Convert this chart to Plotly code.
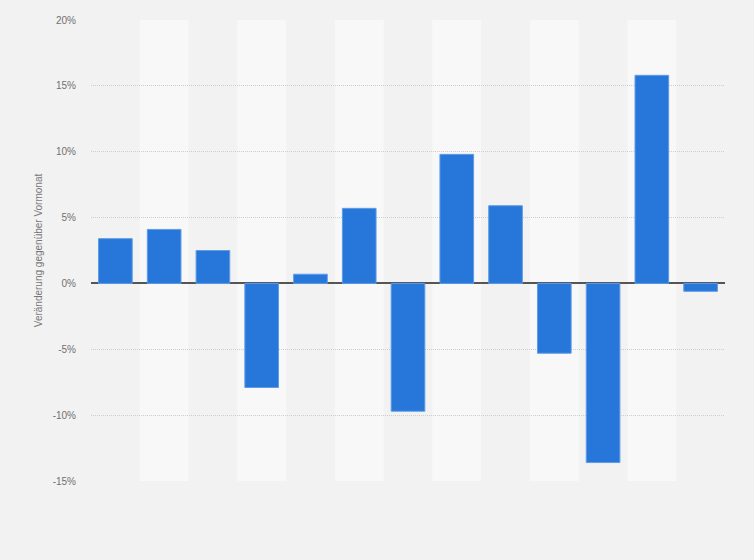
import plotly.graph_objects as go

# monthly change vs. previous month (no x labels shown in the source)
months = ["M1", "M2", "M3", "M4", "M5", "M6", "M7",
          "M8", "M9", "M10", "M11", "M12", "M13"]
change = [3.4, 4.1, 2.5, -7.9, 0.7, 5.7, -9.7, 9.8, 5.9, -5.3, -13.6, 15.8, -0.6]

y_ticks = [-15, -10, -5, 0, 5, 10, 15, 20]
y_labels = ["-15%", "-10%", "-5%", "0%", "5%", "10%", "15%", "20%"]

fig = go.Figure()
fig.add_trace(go.Bar(
    x=months, y=change,
    marker=dict(color="#2776d9", line=dict(color="#5f9be6", width=1)),
    hovertemplate="%{y:.1f}%<extra></extra>",
))

# alternating column shading
for i in range(1, len(months), 2):
    fig.add_shape(type="rect", xref="x", yref="paper",
                  x0=i - 0.5, x1=i + 0.5, y0=0, y1=1,
                  fillcolor="#f8f8f8", line_width=0, layer="below")

fig.update_layout(
    width=754, height=560,
    margin=dict(l=91, r=29, t=20, b=79),
    paper_bgcolor="#f2f2f2", plot_bgcolor="#f2f2f2",
    bargap=0.31, showlegend=False,
    font=dict(family="Liberation Sans, Arial, sans-serif", color="#666666", size=10),
)
fig.update_xaxes(showticklabels=False, showgrid=False, zeroline=False,
                 ticks="", range=[-0.5, len(months) - 0.5])
fig.update_yaxes(range=[-15, 20], tickvals=y_ticks, ticktext=y_labels,
                 showgrid=True, gridcolor="#cdcdcd", griddash="1px,1px", gridwidth=1,
                 zeroline=True, zerolinecolor="#555555", zerolinewidth=1.5,
                 ticks="", ticklen=0, ticklabelstandoff=14,
                 tickfont=dict(size=10, color="#707070"),
                 title=dict(text="Veränderung gegenüber Vormonat",
                            font=dict(size=10, color="#777777"), standoff=8))

fig.write_html("out.html", config={"displayModeBar": False},
               post_script="document.body.style.margin='0';")
